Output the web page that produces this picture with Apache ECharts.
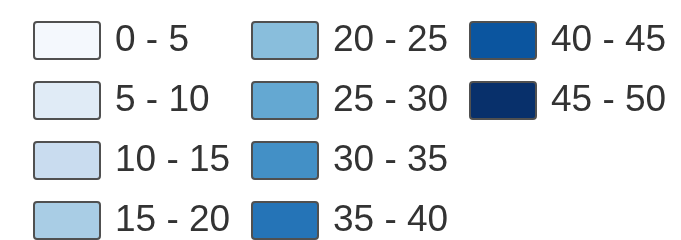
<!DOCTYPE html>
<html><head><meta charset="utf-8">
<script src="https://cdn.jsdelivr.net/npm/echarts@6/dist/echarts.min.js"></script>
<style>html,body{margin:0;padding:0;background:#fff}#c{width:681px;height:240px}</style>
</head><body><div id="c"></div>
<script>
const categories = ["0 - 5","5 - 10","10 - 15","15 - 20","20 - 25","25 - 30","30 - 35","35 - 40","40 - 45","45 - 50"];
const colors = ["#f4f8fd","#e0ebf6","#c9dcef","#a9cde5","#89bedc","#64a8d2","#4390c6","#2574b7","#0b559f","#08306b"];
const columnLeft = [33, 251, 469];
const rowTop = [21, 81, 141, 201];
const rowsPerColumn = 4;

const icon = 'path://M3,0H63Q66,0 66,3V34Q66,37 63,37H3Q0,37 0,34V3Q0,0 3,0Z';
const chart = echarts.init(document.getElementById('c'));
chart.setOption({
  animation: false,
  grid: {show:false, left:0, right:0, top:0, bottom:0},
  xAxis: {show:false, type:'category', data:[]},
  yAxis: {show:false, type:'value'},
  legend: categories.map((c, i) => ({
    orient: 'vertical',
    left: columnLeft[Math.floor(i / rowsPerColumn)],
    top: rowTop[i % rowsPerColumn],
    padding: 0,
    itemWidth: 66,
    itemHeight: 37,
    icon: icon,
    selectedMode: false,
    data: [c],
    itemStyle: {borderColor: '#505050', borderWidth: 2},
    textStyle: {fontFamily: 'Liberation Sans', fontSize: 37, color: '#333', lineHeight: 37, padding: [0,0,0,10]}
  })),
  series: categories.map((c, i) => ({
    type: 'bar', name: c, data: [],
    itemStyle: {color: colors[i], borderColor: '#505050', borderWidth: 2}
  }))
});
</script></body></html>
